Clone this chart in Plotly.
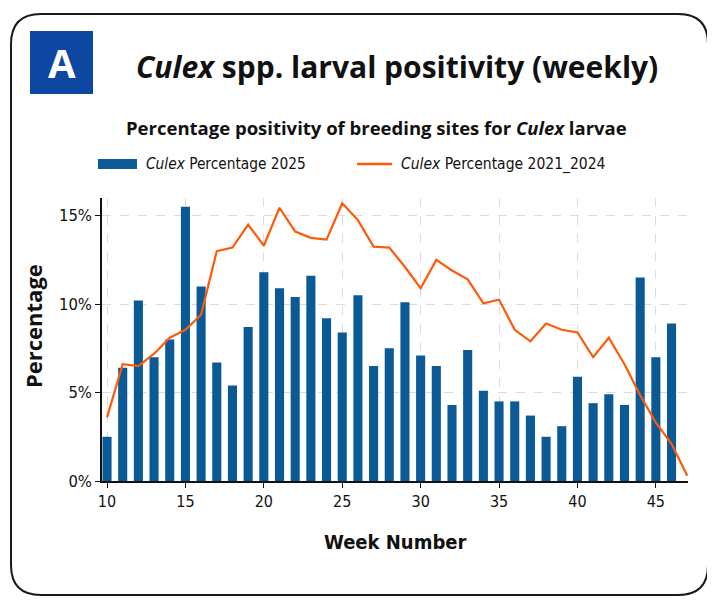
import plotly.graph_objects as go

# Weekly Culex larval positivity data
weeks_2025 = [10, 11, 12, 13, 14, 15, 16, 17, 18, 19, 20, 21, 22, 23, 24, 25, 26, 27, 28,
              29, 30, 31, 32, 33, 34, 35, 36, 37, 38, 39, 40, 41, 42, 43, 44, 45, 46]
pct_2025 = [2.5, 6.4, 10.2, 7.0, 8.0, 15.5, 11.0, 6.7, 5.4, 8.7, 11.8, 10.9, 10.4, 11.6,
            9.2, 8.4, 10.5, 6.5, 7.5, 10.1, 7.1, 6.5, 4.3, 7.4, 5.1, 4.5, 4.5, 3.7, 2.5,
            3.1, 5.9, 4.4, 4.9, 4.3, 11.5, 7.0, 8.9]

weeks_hist = [10, 11, 12, 13, 14, 15, 16, 17, 18, 19, 20, 21, 22, 23, 24, 25, 26, 27, 28,
              29, 30, 31, 32, 33, 34, 35, 36, 37, 38, 39, 40, 41, 42, 43, 44, 45, 46, 47]
pct_hist = [3.6, 6.6, 6.5, 7.2, 8.1, 8.55, 9.4, 13.0, 13.2, 14.5, 13.3, 15.45, 14.1, 13.75,
            13.65, 15.7, 14.75, 13.25, 13.2, 12.1, 10.9, 12.5, 11.9, 11.4, 10.05, 10.25,
            8.55, 7.9, 8.9, 8.55, 8.4, 7.0, 8.1, 6.6, 4.85, 3.3, 2.1, 0.3]

x_ticks = [10, 15, 20, 25, 30, 35, 40, 45]
y_ticks = [0, 5, 10, 15]
y_tick_labels = ["0%", "5%", "10%", "15%"]

name_2025 = "<i>Culex</i> Percentage 2025"
name_hist = "<i>Culex</i> Percentage 2021_2024"

BAR_BLUE = "#0b5a96"
LINE_ORANGE = "#ff5a0a"
PANEL_BLUE = "#0d47a1"

W, H = 715, 605
OFF = 8  # page body margin, figure is drawn shifted by this much
# plot area in page pixels: x 102..688, y 198..481
L, T = 102 - OFF, 198 - OFF
R, B = W - (688 - OFF), H - (481 - OFF)
PW, PH = W - L - R, H - T - B


# page pixel -> paper helpers for the decorations
def px(x):
    return (x - OFF - L) / PW


def py(y):
    return (H - B - (y - OFF)) / PH


fig = go.Figure()
fig.add_trace(go.Bar(x=weeks_2025, y=pct_2025, name=name_2025,
                     marker=dict(color=BAR_BLUE, line=dict(width=0))))
fig.add_trace(go.Scatter(x=weeks_hist, y=pct_hist, name=name_hist, mode="lines",
                         line=dict(color=LINE_ORANGE, width=2.2)))

# rounded outer frame
x0, y0, x1, y1, r = 11, 14, 708, 595, 30
frame = (f"M {px(x0 + r)},{py(y0)} L {px(x1 - r)},{py(y0)} "
         f"Q {px(x1)},{py(y0)} {px(x1)},{py(y0 + r)} L {px(x1)},{py(y1 - r)} "
         f"Q {px(x1)},{py(y1)} {px(x1 - r)},{py(y1)} L {px(x0 + r)},{py(y1)} "
         f"Q {px(x0)},{py(y1)} {px(x0)},{py(y1 - r)} L {px(x0)},{py(y0 + r)} "
         f"Q {px(x0)},{py(y0)} {px(x0 + r)},{py(y0)} Z")

shapes = [
    dict(type="path", path=frame, xref="paper", yref="paper",
         line=dict(color="#1a1a1a", width=2), layer="below"),
    dict(type="rect", xref="paper", yref="paper", x0=px(30), x1=px(93), y0=py(94), y1=py(31),
         fillcolor=PANEL_BLUE, line=dict(width=0)),
    # manual legend swatches
    dict(type="rect", xref="paper", yref="paper", x0=px(98), x1=px(137), y0=py(169), y1=py(159),
         fillcolor=BAR_BLUE, line=dict(width=0)),
    dict(type="line", xref="paper", yref="paper", x0=px(357), x1=px(392), y0=py(164), y1=py(164),
         line=dict(color=LINE_ORANGE, width=2.5)),
]

TITLE_FONT = "Open Sans, Liberation Sans, sans-serif"
AXIS_FONT = "DejaVu Sans Condensed, Roboto, Liberation Sans, sans-serif"

annotations = [
    dict(text="<b>A</b>", x=px(61.5), y=py(63), xref="paper", yref="paper", showarrow=False,
         font=dict(family=TITLE_FONT, size=40, color="white"), xanchor="center", yanchor="middle"),
    dict(text="<b><i>Culex</i> spp. larval positivity (weekly)</b>", x=px(397), y=py(66),
         xref="paper", yref="paper", showarrow=False,
         font=dict(family=TITLE_FONT, size=30, color="#111"), xanchor="center", yanchor="middle"),
    dict(text="<b>Percentage positivity of breeding sites for <i>Culex</i> larvae</b>",
         x=px(376), y=py(127), xref="paper", yref="paper", showarrow=False,
         font=dict(family=TITLE_FONT, size=18.5, color="#111"), xanchor="center", yanchor="middle"),
    dict(text=name_2025, x=px(144), y=py(164), xref="paper", yref="paper", showarrow=False,
         font=dict(family=AXIS_FONT, size=15.3, color="#111"), xanchor="left", yanchor="middle"),
    dict(text=name_hist, x=px(399), y=py(164), xref="paper", yref="paper", showarrow=False,
         font=dict(family=AXIS_FONT, size=15.5, color="#111"), xanchor="left", yanchor="middle"),
    dict(text="<b>Percentage</b>", x=px(33), y=py(326), xref="paper", yref="paper", showarrow=False,
         textangle=-90, font=dict(family=TITLE_FONT, size=22, color="#111"),
         xanchor="center", yanchor="middle"),
    dict(text="<b>Week Number</b>", x=px(395), y=py(542), xref="paper", yref="paper",
         showarrow=False, font=dict(family=AXIS_FONT, size=20, color="#111"),
         xanchor="center", yanchor="middle"),
]

fig.update_layout(
    width=W, height=H,
    margin=dict(l=L, r=R, t=T, b=B),
    paper_bgcolor="white", plot_bgcolor="white",
    showlegend=False,
    bargap=0.42,
    shapes=shapes,
    annotations=annotations,
    font=dict(family=AXIS_FONT, color="#111"),
)
fig.update_xaxes(
    range=[9.68, 47.05], tickvals=x_ticks,
    showgrid=True, gridcolor="#dcdcdc", griddash="dash", gridwidth=1,
    showline=True, linecolor="#111", linewidth=1.5,
    ticks="outside", ticklen=5, tickcolor="#111",
    tickfont=dict(family=AXIS_FONT, size=16, color="#111"),
    zeroline=False,
)
fig.update_yaxes(
    range=[0, 16], tickvals=y_ticks, ticktext=y_tick_labels,
    showgrid=True, gridcolor="#dcdcdc", griddash="dash", gridwidth=1,
    showline=True, linecolor="#111", linewidth=1.5,
    ticks="outside", ticklen=5, tickcolor="#111",
    tickfont=dict(family=AXIS_FONT, size=16.5, color="#111"),
    zeroline=False,
)

fig.write_html("out.html")
